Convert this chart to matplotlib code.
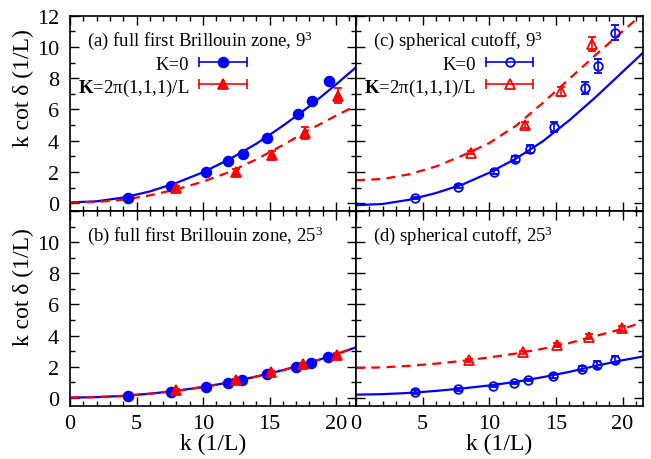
import matplotlib
matplotlib.use('Agg')
import matplotlib.pyplot as plt
from matplotlib.ticker import MultipleLocator

plt.rcParams['font.family'] = ['Liberation Serif', 'DejaVu Serif']
plt.rcParams['mathtext.fontset'] = 'custom'
plt.rcParams['mathtext.rm'] = 'Liberation Serif'
plt.rcParams['mathtext.it'] = 'Liberation Serif:italic'
plt.rcParams['mathtext.bf'] = 'Liberation Serif:bold'
plt.rcParams['lines.scale_dashes'] = False

# ---------------- data ----------------
# (a) full first Brillouin zone, 9^3
a_k0_x = [4.38, 7.63, 10.25, 11.9, 13.0, 14.83, 17.13, 18.2, 19.45]
a_k0_y = [0.36, 1.11, 2.0, 2.68, 3.17, 4.17, 5.72, 6.57, 7.8]
a_k0_e = [0.05, 0.06, 0.07, 0.08, 0.09, 0.1, 0.12, 0.14, 0.17]
a_k1_x = [8.0, 12.5, 15.2, 17.63, 20.13]
a_k1_y = [0.98, 2.02, 3.11, 4.51, 6.89]
a_k1_e = [0.1, 0.2, 0.25, 0.38, 0.48]
# (b) full first Brillouin zone, 25^3
b_k0_x = [4.38, 7.6, 10.2, 11.9, 12.95, 14.8, 17.0, 18.1, 19.4]
b_k0_y = [0.15, 0.40, 0.72, 0.98, 1.15, 1.54, 1.97, 2.25, 2.62]
b_k0_e = [0.03, 0.03, 0.03, 0.04, 0.04, 0.05, 0.05, 0.06, 0.07]
b_k1_x = [8.0, 12.5, 15.1, 17.5, 20.05]
b_k1_y = [0.53, 1.15, 1.67, 2.15, 2.78]
b_k1_e = [0.04, 0.05, 0.06, 0.07, 0.08]
# (c) spherical cutoff, 9^3
c_k0_x = [4.45, 7.68, 10.35, 11.9, 13.06, 14.87, 17.19, 18.17, 19.43]
c_k0_y = [0.34, 1.05, 2.0, 2.81, 3.49, 4.87, 7.38, 8.81, 10.9]
c_k0_e = [0.08, 0.1, 0.15, 0.2, 0.25, 0.33, 0.4, 0.45, 0.48]
c_k1_x = [8.6, 12.68, 15.37, 17.68]
c_k1_y = [3.22, 5.0, 7.16, 10.2]
c_k1_e = [0.1, 0.18, 0.28, 0.45]
# (d) spherical cutoff, 25^3
d_k0_x = [4.43, 7.66, 10.27, 11.83, 12.93, 14.78, 16.94, 18.1, 19.4]
d_k0_y = [0.38, 0.55, 0.77, 0.96, 1.15, 1.4, 1.87, 2.14, 2.46]
d_k0_e = [0.1, 0.08, 0.07, 0.08, 0.09, 0.12, 0.17, 0.2, 0.25]
d_k1_x = [8.45, 12.5, 15.12, 17.49, 19.97]
d_k1_y = [2.42, 2.93, 3.42, 3.93, 4.47]
d_k1_e = [0.1, 0.1, 0.12, 0.15, 0.17]

# fitted curves
curve_x = [0, 2, 4, 6, 8, 10, 12, 14, 16, 18, 20, 21.5]
a_fit0 = [0.05, 0.12, 0.36, 0.75, 1.3, 1.98, 2.82, 3.8, 4.95, 6.2, 7.6, 8.7]
a_fit1 = [0.05, 0.08, 0.22, 0.5, 0.88, 1.38, 2.0, 2.8, 3.72, 4.7, 5.6, 6.25]
b_fit0 = [0.02, 0.05, 0.13, 0.27, 0.46, 0.7, 1.0, 1.37, 1.78, 2.25, 2.8, 3.25]
b_fit1 = [0.02, 0.05, 0.13, 0.27, 0.46, 0.7, 1.0, 1.37, 1.78, 2.25, 2.8, 3.25]
c_fit0 = [-0.13, -0.05, 0.22, 0.65, 1.2, 1.95, 2.85, 3.95, 5.3, 6.8, 8.4, 9.6]
c_fit1 = [1.47, 1.55, 1.85, 2.35, 3.05, 3.85, 4.95, 6.4, 7.95, 9.5, 11.0, 12.1]
d_fit0 = [0.21, 0.24, 0.32, 0.45, 0.61, 0.8, 1.03, 1.33, 1.67, 2.06, 2.42, 2.65]
d_fit1 = [1.93, 1.96, 2.06, 2.2, 2.38, 2.6, 2.85, 3.15, 3.52, 3.98, 4.43, 4.85]

panel_titles = {
    'a': '(a) full first Brillouin zone, $9^3$',
    'b': '(b) full first Brillouin zone, $25^3$',
    'c': '(c) spherical cutoff, $9^3$',
    'd': '(d) spherical cutoff, $25^3$',
}
legend_labels = ['K=0', '$\\mathbf{K}$=2\u03c0(1,1,1)/L']
xlabel = 'k (1/L)'
ylabel = 'k cot \u03b4 (1/L)'

BLUE = '#0000ff'
RED = '#ff0000'

# ---------------- layout ----------------
W, H = 651, 460
fig = plt.figure(figsize=(W / 100, H / 100), dpi=100)


def fx(px):
    return px / W


def fy(py):
    return 1 - py / H


L, M, R = 70, 356, 642.5
T, C, B = 16.7, 212, 406.7
boxes = {'a': (L, M, T, C), 'c': (M, R, T, C), 'b': (L, M, C, B), 'd': (M, R, C, B)}

TICK_FS = 16
LAB_FS = 17
TXT_FS = 13.5

axes = {}
for name, (x0, x1, y0, y1) in boxes.items():
    ax = fig.add_axes([fx(x0), fy(y1), (x1 - x0) / W, (y1 - y0) / H])
    ax.set_xlim(0, 21.5)
    ax.set_ylim(-0.5, 12)
    ax.xaxis.set_major_locator(MultipleLocator(5))
    ax.xaxis.set_minor_locator(MultipleLocator(1))
    ax.set_yticks([0, 2, 4, 6, 8, 10, 12])
    ax.yaxis.set_minor_locator(MultipleLocator(1))
    ax.tick_params(which='both', direction='in', top=True, right=True, width=1.0)
    ax.tick_params(which='major', length=6.5)
    ax.tick_params(which='minor', length=3.4)
    ax.tick_params(axis='y', labelsize=TICK_FS, pad=8)
    ax.tick_params(axis='x', labelsize=TICK_FS, pad=6)
    for s in ax.spines.values():
        s.set_linewidth(1.2)
    axes[name] = ax

for n in ('a', 'c'):
    axes[n].tick_params(axis='x', labelbottom=False)
for n in ('c', 'd'):
    axes[n].tick_params(axis='y', labelleft=False)
axes['b'].set_yticklabels(['0', '2', '4', '6', '8', '10', ''])

line_kw = dict(lw=1.6)
dash_kw = dict(lw=1.6, dashes=(6.5, 4.5))


def marker_size(mk, filled):
    if filled:
        return 7 if mk == 'o' else 7.5
    return 6.2 if mk == 'o' else 7


def draw(ax, fit0, fit1, x0, y0, e0, x1, y1, e1, filled):
    ax.plot(curve_x, fit0, color=BLUE, **line_kw, zorder=2)
    ax.plot(curve_x, fit1, color=RED, **dash_kw, zorder=2)
    for (xs, ys, es, col, mk) in ((x0, y0, e0, BLUE, 'o'), (x1, y1, e1, RED, '^')):
        ax.errorbar(xs, ys, yerr=es, fmt=mk, color=col, ms=marker_size(mk, filled),
                    mfc=col if filled else 'none', mec=col, mew=1.3,
                    ecolor=col, elinewidth=1.2, capsize=3.2, capthick=1.2, zorder=3)


draw(axes['a'], a_fit0, a_fit1, a_k0_x, a_k0_y, a_k0_e, a_k1_x, a_k1_y, a_k1_e, True)
draw(axes['b'], b_fit0, b_fit1, b_k0_x, b_k0_y, b_k0_e, b_k1_x, b_k1_y, b_k1_e, True)
draw(axes['c'], c_fit0, c_fit1, c_k0_x, c_k0_y, c_k0_e, c_k1_x, c_k1_y, c_k1_e, False)
draw(axes['d'], d_fit0, d_fit1, d_k0_x, d_k0_y, d_k0_e, d_k1_x, d_k1_y, d_k1_e, False)

# panel titles
for n, (px, py) in {'a': (86.7, 46), 'c': (373.3, 46), 'b': (86.7, 241), 'd': (373.3, 241)}.items():
    fig.text(fx(px), fy(py), panel_titles[n], fontsize=TXT_FS, ha='left', va='baseline')

# legends (panels a and c)
for (txt_r, l0, l1, filled) in ((189.3, 199.3, 247.3, True), (475.5, 485.7, 533.3, False)):
    for row, (lab, col, mk) in enumerate(zip(legend_labels, (BLUE, RED), ('o', '^'))):
        py = 63.3 + row * 21.7
        fig.text(fx(txt_r), fy(py), lab, fontsize=TXT_FS, ha='right', va='center_baseline')
        fig.add_artist(plt.Line2D([fx(l0), fx(l1)], [fy(py), fy(py)], color=col, lw=1.2,
                                  transform=fig.transFigure))
        fig.add_artist(plt.Line2D([fx(l0), fx(l1)], [fy(py), fy(py)], color=col, lw=0,
                                  marker='|', ms=6.5, mew=1.2, transform=fig.transFigure))
        fig.add_artist(plt.Line2D([fx((l0 + l1) / 2)], [fy(py)], color=col, lw=0,
                                  marker=mk, ms=marker_size(mk, filled), mew=1.3,
                                  mfc=col if filled else 'none', mec=col,
                                  transform=fig.transFigure))

# axis labels
fig.text(fx(23), fy(88), ylabel, fontsize=LAB_FS, rotation=90, ha='center', va='center')
fig.text(fx(23), fy(287), ylabel, fontsize=LAB_FS, rotation=90, ha='center', va='center')
fig.text(fx((L + M) / 2), fy(444), xlabel, fontsize=LAB_FS, ha='center', va='center')
fig.text(fx((M + R) / 2), fy(444), xlabel, fontsize=LAB_FS, ha='center', va='center')

fig.savefig('out.png', dpi=100)
